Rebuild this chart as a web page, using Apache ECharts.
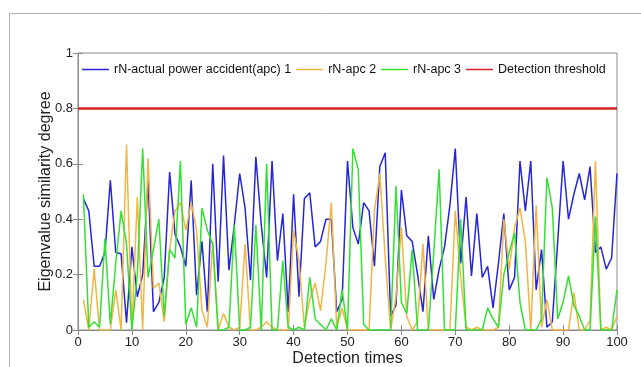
<!DOCTYPE html>
<html>
<head>
<meta charset="utf-8">
<script src="https://cdn.jsdelivr.net/npm/echarts@6/dist/echarts.min.js"></script>
<style>
  html, body { margin: 0; padding: 0; background: #fff; }
  #chart { width: 641px; height: 367px; }
</style>
</head>
<body>
<div id="chart"></div>
<script>
// detection index 1..100
const detectionTimes = Array.from({ length: 100 }, (_, i) => i + 1);

const apc1 = [
  0.475, 0.43, 0.23, 0.23, 0.28, 0.54, 0.28, 0.275, 0.026, 0.30,
  0.12, 0.20, 0.54, 0.066, 0.10, 0.19, 0.57, 0.345, 0.30, 0.23,
  0.54, 0.126, 0.32, 0.066, 0.60, 0.174, 0.63, 0.216, 0.38, 0.565,
  0.44, 0.18, 0.625, 0.38, 0.19, 0.61, 0.25, 0.42, 0.066, 0.49,
  0.12, 0.475, 0.495, 0.30, 0.32, 0.40, 0.40, 0.066, 0.11, 0.61,
  0.37, 0.31, 0.46, 0.43, 0.23, 0.59, 0.64, 0.05, 0.09, 0.505,
  0.34, 0.32, 0.20, 0.066, 0.34, 0.11, 0.22, 0.30, 0.45, 0.655,
  0.24, 0.48, 0.195, 0.42, 0.19, 0.23, 0.08, 0.24, 0.42, 0.145,
  0.19, 0.61, 0.43, 0.61, 0.145, 0.29, 0.01, 0.03, 0.32, 0.61,
  0.40, 0.49, 0.565, 0.47, 0.59, 0.28, 0.30, 0.22, 0.26, 0.565
];
const apc2 = [
  0.11, 0, 0.22, 0, 0, 0, 0.145, 0, 0.67, 0,
  0.48, 0, 0.62, 0.15, 0.17, 0.03, 0.29, 0.43, 0.46, 0.36,
  0.46, 0.36, 0.07, 0.01, 0.32, 0, 0.06, 0.01, 0, 0.01,
  0.31, 0, 0, 0.01, 0.03, 0.01, 0, 0, 0, 0.36,
  0.25, 0.01, 0.11, 0.17, 0.07, 0.24, 0.46, 0.01, 0.08, 0,
  0, 0, 0, 0, 0.43, 0.565, 0.26, 0, 0.12, 0.37,
  0.05, 0, 0.03, 0.31, 0, 0, 0, 0, 0, 0.43,
  0.19, 0.01, 0, 0.01, 0, 0, 0, 0.01, 0.40, 0.22,
  0.37, 0.44, 0.32, 0, 0.45, 0.01, 0.11, 0, 0, 0,
  0, 0.135, 0, 0, 0.035, 0.61, 0, 0.01, 0, 0.05
];
const apc3 = [
  0.49, 0.01, 0.03, 0.01, 0.33, 0.02, 0.24, 0.43, 0.31, 0,
  0.20, 0.655, 0.19, 0.29, 0.40, 0.05, 0.29, 0.26, 0.61, 0.02,
  0.08, 0.01, 0.44, 0.36, 0.31, 0, 0, 0.01, 0.38, 0,
  0, 0.01, 0.38, 0, 0.60, 0, 0, 0.25, 0.01, 0,
  0.01, 0, 0.19, 0.04, 0.02, 0, 0.04, 0, 0.145, 0,
  0.655, 0.58, 0.02, 0, 0, 0, 0, 0, 0.52, 0.10,
  0.06, 0.29, 0, 0, 0, 0.28, 0.58, 0, 0, 0,
  0.40, 0, 0, 0, 0, 0.08, 0.04, 0.01, 0.20, 0.28,
  0.35, 0.10, 0, 0, 0, 0.04, 0.55, 0.44, 0.04, 0.10,
  0.195, 0.09, 0.05, 0, 0, 0.41, 0, 0, 0, 0.145
];
const threshold = 0.8;
const thresholdX = [0, 100];

const seriesNames = ['rN-actual power accident(apc) 1', 'rN-apc 2', 'rN-apc 3', 'Detection threshold'];
const lineColors = ['#2626d9', '#f0b545', '#33e033', '#d42424'];

const pairs = (vals) => vals.map((v, i) => [detectionTimes[i], v]);
const FONT = '"Liberation Sans", Arial, sans-serif';
const AXIS_GRAY = '#8a8a8a';

const chart = echarts.init(document.getElementById('chart'));

const hiddenAxis = {
  type: 'value',
  min: 0,
  axisLine: { show: false },
  axisLabel: { show: false },
  splitLine: { show: false },
  axisTick: { show: true, inside: true, length: 5, lineStyle: { color: AXIS_GRAY } },
};

const option = {
  animation: false,
  backgroundColor: '#fff',
  textStyle: { fontFamily: FONT },
  graphic: [
    {
      type: 'rect',
      shape: { x: 9.5, y: 13.5, width: 700, height: 400 },
      style: { fill: 'none', stroke: '#b4b4b4', lineWidth: 1 },
      silent: true,
    },
  ],
  grid: {
    left: 78, right: 24, top: 53, bottom: 37,
    outerBoundsMode: 'none', containLabel: false,
    show: true, borderColor: AXIS_GRAY, borderWidth: 1,
    backgroundColor: 'transparent',
  },
  legend: {
    left: 82, top: 63, padding: 0,
    itemWidth: 27, itemHeight: 1.5, itemGap: 5,
    icon: 'rect',
    textStyle: { fontFamily: FONT, fontSize: 12.5, color: '#111' },
    data: seriesNames,
  },
  xAxis: [
    {
      type: 'value', min: 0, max: 100, interval: 10,
      name: 'Detection times', nameLocation: 'middle', nameGap: 21, nameMoveOverlap: false,
      nameTextStyle: { fontFamily: FONT, fontSize: 16, color: '#222' },
      axisLine: { show: true, lineStyle: { color: AXIS_GRAY } },
      axisTick: { show: true, inside: true, length: 5, lineStyle: { color: AXIS_GRAY } },
      axisLabel: { fontFamily: FONT, fontSize: 13, color: '#222', margin: 6 },
      splitLine: { show: false },
    },
    Object.assign({}, hiddenAxis, { position: 'top', max: 100, interval: 10 }),
  ],
  yAxis: [
    {
      type: 'value', min: 0, max: 1, interval: 0.2,
      name: 'Eigenvalue similarity degree', nameLocation: 'middle', nameGap: 24, nameMoveOverlap: false,
      nameTextStyle: { fontFamily: FONT, fontSize: 16, color: '#222' },
      axisLine: { show: true, lineStyle: { color: AXIS_GRAY } },
      axisTick: { show: true, inside: true, length: 5, lineStyle: { color: AXIS_GRAY } },
      axisLabel: { fontFamily: FONT, fontSize: 13, color: '#222', margin: 5 },
      splitLine: { show: false },
    },
    Object.assign({}, hiddenAxis, { position: 'right', max: 1, interval: 0.2 }),
  ],
  series: [
    {
      name: seriesNames[0], type: 'line', data: pairs(apc1),
      symbol: 'none', lineStyle: { color: lineColors[0], width: 1.5 }, itemStyle: { color: lineColors[0] },
    },
    {
      name: seriesNames[1], type: 'line', data: pairs(apc2),
      symbol: 'none', lineStyle: { color: lineColors[1], width: 1.5 }, itemStyle: { color: lineColors[1] },
    },
    {
      name: seriesNames[2], type: 'line', data: pairs(apc3),
      symbol: 'none', lineStyle: { color: lineColors[2], width: 1.5 }, itemStyle: { color: lineColors[2] },
    },
    {
      name: seriesNames[3], type: 'line', data: thresholdX.map((x) => [x, threshold]),
      symbol: 'none', lineStyle: { color: lineColors[3], width: 2.5 }, itemStyle: { color: lineColors[3] },
    },
  ],
};

chart.setOption(option);
</script>
</body>
</html>
